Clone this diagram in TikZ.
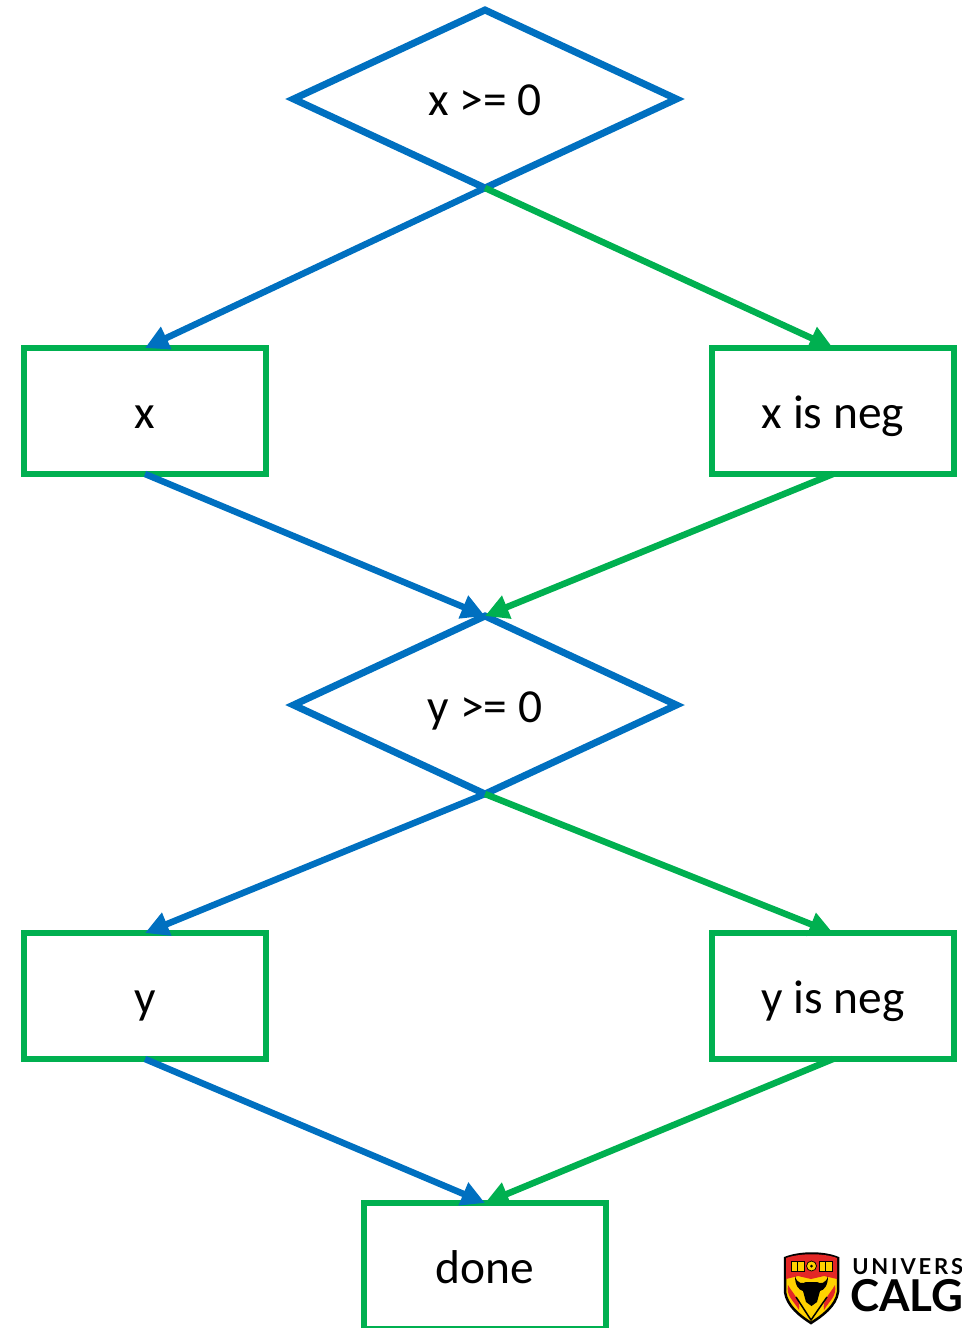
\documentclass[tikz,border=0pt]{standalone}
\usepackage{fontspec}
\setmainfont{Carlito}
\newfontfamily\logofont{Lato}
\usetikzlibrary{shapes.geometric,arrows.meta}
\definecolor{flowblue}{RGB}{0,112,192}
\definecolor{flowgreen}{RGB}{0,176,80}
\definecolor{shieldred}{RGB}{227,39,38}
\definecolor{shieldgold}{RGB}{255,210,0}
\tikzset{
	test/.style={diamond, draw=flowblue, line width=0.14cm, minimum width=7.66cm, minimum height=3.56cm, inner sep=0pt, outer sep=0pt, text height=0.68cm, text depth=0cm, font=\fontsize{27}{30}\selectfont},
	stmt/.style={rectangle, draw=flowgreen, line width=0.13cm, minimum width=4.84cm, minimum height=2.52cm, inner sep=0pt, outer sep=0pt, text height=0.68cm, text depth=0cm, font=\fontsize{27}{30}\selectfont},
	yes/.style={draw=flowblue, line width=0.13cm},
	no/.style={draw=flowgreen, line width=0.13cm},
	>={Triangle[length=0.47cm, width=0.47cm]}
}
\begin{document}
\begin{tikzpicture}[x=0.02cm, y=-0.02cm, line join=miter]
	\useasboundingbox (0,0) rectangle (962,1328);
	\path (485,99) node[test] (xtest) {x >= 0}
	(145,411) node[stmt] (xpos) {x}
	(833,411) node[stmt] (xneg) {x is neg}
	(485,705) node[test] (ytest) {y >= 0}
	(145,996) node[stmt] (ypos) {y}
	(833,996) node[stmt] (yneg) {y is neg}
	(485,1266) node[stmt] (done) {done};
	\draw[yes,->] (xtest.south) -- (xpos.north);
	\draw[no,->] (xtest.south) -- (xneg.north);
	\draw[yes,->] (xpos.south) -- (ytest.north);
	\draw[no,->] (xneg.south) -- (ytest.north);
	\draw[yes,->] (ytest.south) -- (ypos.north);
	\draw[no,->] (ytest.south) -- (yneg.north);
	\draw[yes,->] (ypos.south) -- (done.north);
	\draw[no,->] (yneg.south) -- (done.north);
	% crest
	\draw[black, line width=0.05cm, fill=shieldgold] (785,1258) .. controls (800,1252) and (824,1252) .. (838,1258) -- (838,1292) .. controls (836,1306) and (822,1316) .. (811,1323) .. controls (800,1316) and (787,1306) .. (785,1292) -- cycle;
	\fill[shieldred] (786,1258) .. controls (800,1253) and (824,1253) .. (837,1258) -- (837,1279) -- (824,1276) -- (811,1279) -- (798,1276) -- (786,1279) -- cycle;
	\draw[black, line width=0.015cm, fill=shieldgold] (791,1261) rectangle (804,1271) (819,1261) rectangle (832,1271);
	\draw[black, line width=0.015cm, fill=shieldgold] (811.5,1266) circle (5);
	\draw[black, line width=0.02cm] (797.5,1261) -- (797.5,1271) (825.5,1261) -- (825.5,1271);
	\fill[black] (811.5,1266) circle (1.5);
	\fill[shieldred] (788,1285) .. controls (786,1296) and (793,1300) .. (799,1310) .. controls (801,1300) and (793,1294) .. (788,1285) -- cycle;
	\fill[shieldred] (835,1285) .. controls (837,1296) and (830,1300) .. (824,1310) .. controls (822,1300) and (830,1294) .. (835,1285) -- cycle;
	\draw[black, line width=0.03cm] (796,1297) -- (811,1320) -- (827,1297);
	\fill[black] (795,1276) .. controls (797,1284) and (803,1284) .. (806,1282) -- (817,1282) .. controls (820,1284) and (826,1284) .. (828,1276) .. controls (828,1286) and (824,1290) .. (820,1291) -- (817,1302) -- (811.5,1306) -- (806,1302) -- (803,1291) .. controls (799,1290) and (795,1286) .. (795,1276) -- cycle;
	\node[anchor=base west, inner sep=0pt, font=\logofont\bfseries\fontsize{12.5}{12.5}\selectfont] (univ) at (852,1274) {U\kern1.6pt N\kern1.6pt I\kern1.6pt V\kern1.6pt E\kern1.6pt R\kern1.6pt S};
	\node[anchor=base west, inner sep=0pt, font=\logofont\bfseries\fontsize{25}{25}\selectfont] (calg) at (850,1311) {CALG};
\end{tikzpicture}
\end{document}
